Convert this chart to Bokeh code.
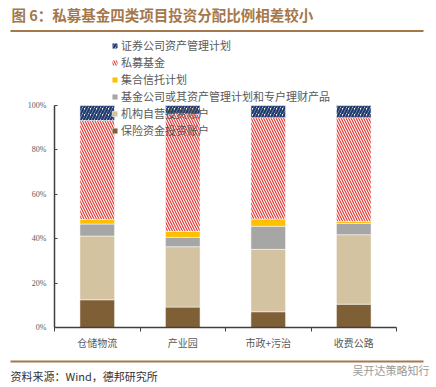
from bokeh.plotting import figure
from bokeh.models import (Range1d, FixedTicker, PrintfTickFormatter, Legend, LegendItem,
                          Label, BoxAnnotation)
from bokeh.embed import file_html
from bokeh.resources import INLINE
import numpy as np

categories = ["仓储物流", "产业园", "市政+污治", "收费公路"]
series_names = ["保险资金投资账户", "机构自营投资账户", "基金公司或其资产管理计划和专户理财产品",
                "集合信托计划", "私募基金", "证券公司资产管理计划"]
insurance = [12.5, 9.2, 7.1, 10.5]
proprietary = [28.7, 27.2, 28.1, 31.3]
fund_co = [5.4, 4.2, 10.4, 5.1]
trust = [2.1, 2.7, 3.3, 0.9]
private_fund = [44.5, 52.9, 45.6, 46.7]
securities = [6.8, 3.8, 5.5, 5.5]
y_ticks = [0, 20, 40, 60, 80, 100]

series = [insurance, proprietary, fund_co, trust, private_fund, securities]
styles = [
    dict(fill_color="#7F5F36"),
    dict(fill_color="#D3C3A0"),
    dict(fill_color="#A6A6A6"),
    dict(fill_color="#FFC000"),
    dict(fill_color="white", hatch_pattern="left_diagonal_line", hatch_color="#E53935",
         hatch_weight=1.2, hatch_scale=5),
    dict(fill_color="white", hatch_pattern="right_diagonal_line", hatch_color="#1F3A6E",
         hatch_weight=2.4, hatch_scale=6),
]

W, H = 436, 387
# pixel placement of the plotting area inside the canvas
AX_L, AX_R, AX_T, AX_B = 54, 396, 105, 327
ncat = len(categories)
ppx = (AX_R - AX_L) / ncat
ppy = (AX_B - AX_T) / 100.0

p = figure(width=W, height=H, output_backend="svg", toolbar_location=None,
           x_range=Range1d(-AX_L / ppx, (W - AX_L) / ppx),
           y_range=Range1d(-(H - AX_B) / ppy, AX_B / ppy),
           min_border=0, min_border_left=0, min_border_right=0,
           min_border_top=0, min_border_bottom=0)
p.outline_line_color = None
p.xgrid.grid_line_color = None
p.ygrid.grid_line_color = None
p.background_fill_color = "white"
p.border_fill_color = "white"

xs = [i + 0.5 for i in range(ncat)]
cum = np.zeros(ncat)
renderers = []
for vals, st in zip(series, styles):
    bottom = cum.copy()
    cum = cum + np.array(vals)
    r = p.vbar(x=xs, bottom=list(bottom), top=list(cum), width=0.405,
               line_color="white", line_width=0.5, **st)
    renderers.append(r)

# axes
xa = p.xaxis[0]
xa.fixed_location = 0
xa.bounds = (0, ncat)
xa.ticker = FixedTicker(ticks=xs, minor_ticks=list(range(ncat + 1)))
xa.major_label_overrides = {x: c for x, c in zip(xs, categories)}
xa.major_tick_line_color = None
xa.major_tick_in = 0
xa.major_tick_out = 0
xa.minor_tick_in = 0
xa.minor_tick_out = 4
xa.minor_tick_line_color = "#404040"
xa.axis_line_color = "#404040"
xa.axis_line_width = 1.5
xa.major_label_text_font = "Noto Sans CJK SC"
xa.major_label_text_font_size = "10px"
xa.major_label_text_color = "#595959"
xa.major_label_standoff = 3

ya = p.yaxis[0]
ya.fixed_location = 0
ya.bounds = (0, 100)
ya.ticker = FixedTicker(ticks=y_ticks, minor_ticks=[])
ya.formatter = PrintfTickFormatter(format="%d%%")
ya.major_tick_in = 3
ya.major_tick_out = 0
ya.major_tick_line_color = "#404040"
ya.axis_line_color = "#404040"
ya.axis_line_width = 1.5
ya.major_label_text_font = "Liberation Serif"
ya.major_label_text_font_size = "8px"
ya.major_label_text_color = "#595959"
ya.major_label_standoff = 8

# legend (top entry = top of stack)
items = [LegendItem(label=n, renderers=[r]) for n, r in zip(series_names, renderers)][::-1]
legend = Legend(items=items, location=(111, H - 138), padding=0, margin=0, spacing=1,
                glyph_width=7, glyph_height=7, label_height=13, label_standoff=3,
                label_text_font="Noto Sans CJK SC", label_text_font_size="11px",
                label_text_color="#595959", border_line_color=None,
                background_fill_alpha=0)
p.add_layout(legend)

def sy(y):
    return H - y

BROWN = "#A5784B"
p.add_layout(Label(x=11, y=sy(14), x_units="screen", y_units="screen",
                   text="图 6：私募基金四类项目投资分配比例相差较小", text_font="Noto Sans CJK SC",
                   text_font_size="14.5px", text_font_style="bold", text_color=BROWN,
                   text_baseline="middle"))
p.add_layout(BoxAnnotation(left=10, right=423, top=sy(29.5), bottom=sy(31.5),
                           left_units="screen", right_units="screen", top_units="screen",
                           bottom_units="screen", fill_color=BROWN, fill_alpha=1,
                           line_color=None))
p.add_layout(BoxAnnotation(left=10, right=423, top=sy(360), bottom=sy(362),
                           left_units="screen", right_units="screen", top_units="screen",
                           bottom_units="screen", fill_color=BROWN, fill_alpha=1,
                           line_color=None))
p.add_layout(Label(x=10, y=sy(375), x_units="screen", y_units="screen",
                   text="资料来源：Wind，德邦研究所", text_font="Noto Sans CJK SC",
                   text_font_size="11px", text_color="#333333", text_baseline="middle"))
p.add_layout(Label(x=352, y=sy(369), x_units="screen", y_units="screen",
                   text="吴开达策略知行", text_font="Noto Sans CJK SC",
                   text_font_size="11px", text_color="#9A9A9A", text_baseline="middle"))

open("out.html", "w").write(file_html(p, INLINE))
